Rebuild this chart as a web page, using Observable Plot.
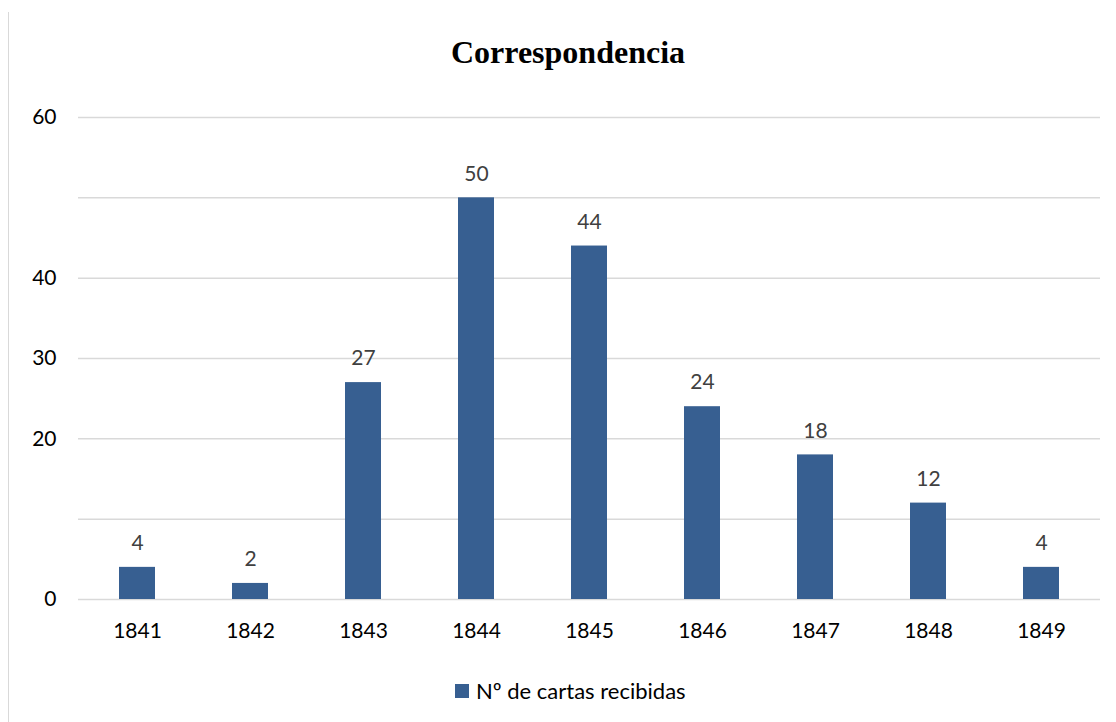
<!DOCTYPE html>
<html>
<head>
<meta charset="utf-8">
<script src="https://cdn.jsdelivr.net/npm/d3@7"></script>
<script src="https://cdn.jsdelivr.net/npm/@observablehq/plot@0.6"></script>
<style>
  html, body { margin: 0; padding: 0; background: #fff; }
  #wrap { position: relative; width: 1116px; height: 722px; overflow: hidden; }
  #frame { position: absolute; left: 8px; top: 12px; width: 0; height: 720px; border-left: 1.5px solid #d9d9d9; }
  #title { position: absolute; left: 0; top: 34px; width: 1136px; text-align: center;
           font-family: "Liberation Serif", "Times New Roman", serif; font-weight: bold; font-size: 32px; color: #000; }
  #legend { position: absolute; top: 677px; left: 455px; display: flex; align-items: center;
            font-family: Lato, "Open Sans", sans-serif; font-size: 22px; color: #000; }
  #legend .sw { width: 14px; height: 14px; background: #375f91; margin-right: 7px; }
  #chart { position: absolute; left: 0; top: 0; }
</style>
</head>
<body>
<div id="wrap">
  <div id="frame"></div>
  <div id="title">Correspondencia</div>
  <div id="chart"></div>
  <div id="legend"><div class="sw"></div><span id="legendText"></span></div>
</div>
<script>
const years = ["1841","1842","1843","1844","1845","1846","1847","1848","1849"];
const cartas = [4, 2, 27, 50, 44, 24, 18, 12, 4];
const seriesName = "Nº de cartas recibidas";
const yTickLabels = [0, 20, 30, 40, 60];
const yGrid = [0, 10, 20, 30, 40, 50, 60];

const data = years.map((y, i) => ({year: y, value: cartas[i]}));
document.getElementById("legendText").textContent = seriesName;

const color = "#375f91";
const font = "Lato, 'Open Sans', sans-serif";

const plot = Plot.plot({
  width: 1116,
  height: 722,
  marginLeft: 78,
  marginRight: 16,
  marginTop: 117,
  marginBottom: 123,
  style: {fontFamily: font, fontSize: "21px", background: "transparent", overflow: "visible"},
  x: {domain: years, paddingInner: 0.68, paddingOuter: 0.34, label: null},
  y: {domain: [0, 60], label: null},
  marks: [
    Plot.ruleY(yGrid, {stroke: "#d9d9d9", strokeWidth: 1.5}),
    Plot.barY(data, {x: "year", y: "value", fill: color}),
    Plot.text(data, {x: "year", y: "value", text: d => String(d.value), dy: -24, fill: "#404040", fontSize: 21}),
    Plot.axisX({tickSize: 0, tickPadding: 24, fontSize: 21, color: "#000"}),
    Plot.axisY(yTickLabels, {tickSize: 0, tickPadding: 22, fontSize: 21, color: "#000"})
  ]
});
document.getElementById("chart").appendChild(plot);
</script>
</body>
</html>
